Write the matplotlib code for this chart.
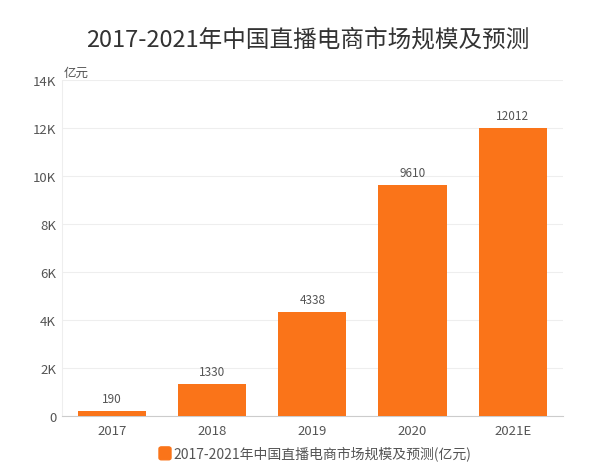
import matplotlib
matplotlib.use('Agg')
import matplotlib.pyplot as plt
from matplotlib.ticker import FuncFormatter
from matplotlib.patches import FancyBboxPatch

plt.rcParams['font.family'] = ['Noto Sans CJK SC', 'DejaVu Sans']

years = ['2017', '2018', '2019', '2020', '2021E']
values = [190, 1330, 4338, 9610, 12012]
series_name = '2017-2021年中国直播电商市场规模及预测(亿元)'
title = '2017-2021年中国直播电商市场规模及预测'

bar_color = '#FA7419'
text_color = '#555555'

fig = plt.figure(figsize=(6, 4.77), dpi=100)
ax = fig.add_axes([0.103, 0.126, 0.835, 0.704])

x = range(len(years))
ax.bar(x, values, width=0.68, color=bar_color, zorder=3)
for xi, v in zip(x, values):
    ax.text(xi, v + 250, str(v), ha='center', va='bottom', fontsize=8.5, color=text_color)

ax.set_xlim(-0.5, len(years) - 0.5)
ax.set_ylim(0, 14000)
ax.set_yticks(range(0, 14001, 2000))
ax.yaxis.set_major_formatter(FuncFormatter(lambda v, p: '0' if v == 0 else f'{int(v/1000)}K'))
ax.set_xticks(list(x))
ax.set_xticklabels(years)
ax.tick_params(axis='both', length=0, labelsize=9.5, colors=text_color)
ax.tick_params(axis='x', pad=6)
ax.tick_params(axis='y', pad=4)

ax.grid(axis='y', color='#EEEEEE', linewidth=0.8, zorder=0)
for s in ['top', 'right']:
    ax.spines[s].set_visible(False)
ax.spines['left'].set_color('#EEEEEE')
ax.spines['bottom'].set_color('#CCCCCC')

ax.text(0.003, 1.005, '亿元', transform=ax.transAxes, fontsize=9, color=text_color,
        ha='left', va='bottom')

fig.text(0.513, 0.916, title, ha='center', va='center', fontsize=17, color='#333333')

# legend
fig.patches.append(FancyBboxPatch((0.265, 0.034), 0.02, 0.027,
                                  boxstyle='round,pad=0,rounding_size=0.004',
                                  transform=fig.transFigure, color=bar_color))
fig.text(0.289, 0.048, series_name, ha='left', va='center', fontsize=10, color=text_color)

fig.savefig('out.png', dpi=100, facecolor='white')
